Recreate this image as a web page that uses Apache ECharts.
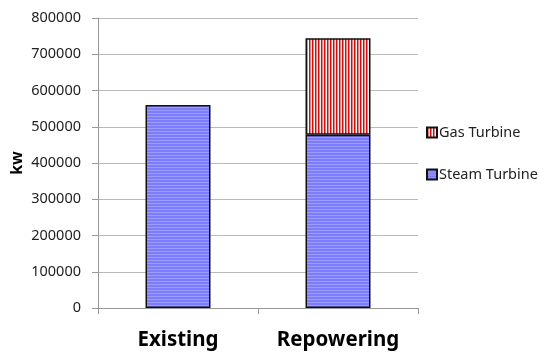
<!DOCTYPE html>
<html>
<head>
<meta charset="utf-8">
<script src="https://cdn.jsdelivr.net/npm/echarts@6/dist/echarts.min.js"></script>
<style>
  html, body { margin: 0; padding: 0; background: #fff; }
  #chart { width: 540px; height: 352px; }
</style>
</head>
<body>
<div id="chart"></div>
<script>
// Plant capacity (kW) before and after repowering
const categories = ['Existing', 'Repowering'];
const steamTurbine = [560000, 478000];
const gasTurbine = [0, 266000];
const yTicks = [0, 100000, 200000, 300000, 400000, 500000, 600000, 700000, 800000];

// Striped fill patterns drawn on small canvases
function stripes(size, horizontal, colors) {
  const c = document.createElement('canvas');
  c.width = horizontal ? 1 : size;
  c.height = horizontal ? size : 1;
  const ctx = c.getContext('2d');
  colors.forEach((col, i) => {
    ctx.fillStyle = col;
    if (horizontal) ctx.fillRect(0, i, 1, 1);
    else ctx.fillRect(i, 0, 1, 1);
  });
  return { image: c, repeat: 'repeat' };
}
const steamFill = stripes(3, true, ['#7c7cff', '#7c7cff', '#9d9dff']);
const gasFill = stripes(3, false, ['#dd0a0a', '#f08080', '#ffffff']);

const chart = echarts.init(document.getElementById('chart'), null, { renderer: 'canvas' });
chart.setOption({
  animation: false,
  grid: { left: 98, right: 122, top: 18, bottom: 44, containLabel: false, outerBoundsMode: 'none' },
  legend: {
    orient: 'vertical',
    left: 421,
    top: 120,
    itemGap: 27,
    itemWidth: 10,
    itemHeight: 10,
    icon: 'rect',
    data: ['Gas Turbine', 'Steam Turbine'],
    textStyle: { fontFamily: 'Noto Sans', fontSize: 14.5, color: '#222', padding: [0, 0, 0, -3] }
  },
  xAxis: {
    type: 'category',
    data: categories,
    axisLine: { lineStyle: { color: '#999' } },
    axisTick: { show: true, length: 6, lineStyle: { color: '#999' } },
    axisLabel: { interval: 0, fontFamily: 'Noto Sans', fontWeight: 'bold', fontSize: 20.5, color: '#000', margin: 22 }
  },
  yAxis: {
    type: 'value',
    min: 0,
    max: 800000,
    interval: 100000,
    name: 'kw',
    nameLocation: 'middle',
    nameRotate: 90,
    nameGap: 73,
    nameMoveOverlap: false,
    nameTextStyle: { fontFamily: 'Noto Sans', fontWeight: 'bold', fontSize: 16, color: '#000' },
    axisLine: { show: true, lineStyle: { color: '#999' } },
    axisTick: { show: true, length: 6, lineStyle: { color: '#999' } },
    axisLabel: {
      fontFamily: 'Noto Sans', fontSize: 14.5, color: '#222', margin: 17,
      formatter: v => yTicks.includes(v) ? String(v) : ''
    },
    splitLine: { lineStyle: { color: '#bbb' } }
  },
  series: [
    {
      name: 'Steam Turbine',
      type: 'bar',
      stack: 'cap',
      data: steamTurbine,
      barWidth: 65,
      itemStyle: { color: steamFill, borderColor: '#111', borderWidth: 1.5 }
    },
    {
      name: 'Gas Turbine',
      type: 'bar',
      stack: 'cap',
      data: gasTurbine.map(v => v === 0 ? '-' : v),
      barWidth: 65,
      itemStyle: { color: gasFill, borderColor: '#111', borderWidth: 1.5 }
    }
  ]
});
</script>
</body>
</html>
